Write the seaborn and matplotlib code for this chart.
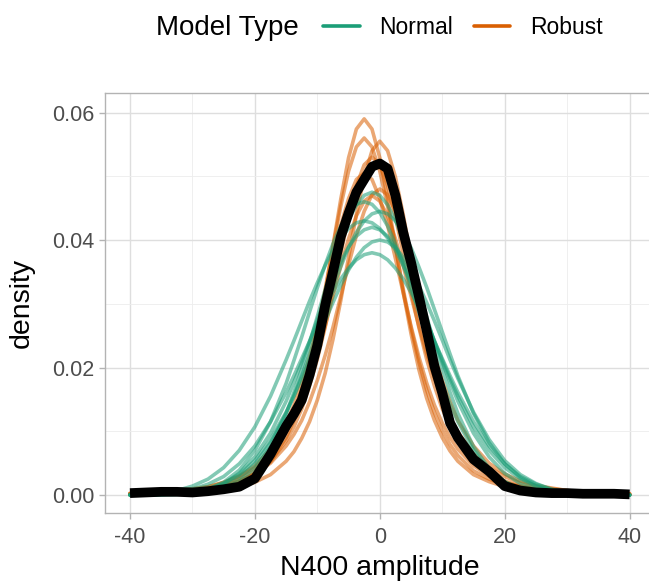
import numpy as np
import pandas as pd
import matplotlib
matplotlib.use("Agg")
import matplotlib.pyplot as plt
from matplotlib.lines import Line2D
from matplotlib.ticker import MultipleLocator
import seaborn as sns

sns.set_theme(style="white")
plt.rcParams["font.family"] = ["Liberation Sans", "DejaVu Sans"]

# ---------------- data ----------------
amplitude = [-40, -37.5, -35, -32.5, -30, -27.5, -25, -22.5, -20, -17.5, -15,
             -13.75, -12.5, -11.25, -10, -8.75, -7.5, -6.25, -5, -3.75, -2.5, -1.25,
             0, 1.25, 2.5, 3.75, 5, 6.25, 7.5, 8.75, 10, 11.25, 12.5,
             15, 17.5, 20, 22.5, 25, 27.5, 30, 32.5, 35, 37.5, 40]

observed = [0.0003, 0.0004, 0.0005, 0.0005, 0.0004, 0.0006, 0.0009, 0.0013, 0.0026, 0.0064, 0.0108,
            0.0127, 0.0149, 0.0188, 0.0235, 0.0297, 0.0350, 0.0405, 0.0442, 0.0475, 0.0495, 0.0515,
            0.0520, 0.0512, 0.0470, 0.0412, 0.0365, 0.0312, 0.0258, 0.0202, 0.0160, 0.0113, 0.0090,
            0.0056, 0.0037, 0.0014, 0.0007, 0.0004, 0.0003, 0.0003, 0.0002, 0.0002, 0.0002, 0.0001]

normal_1 = [0.0000, 0.0000, 0.0001, 0.0002, 0.0004, 0.0009, 0.0018, 0.0032, 0.0054, 0.0087, 0.0130,
            0.0155, 0.0183, 0.0212, 0.0243, 0.0273, 0.0302, 0.0329, 0.0353, 0.0373, 0.0388, 0.0397,
            0.0400, 0.0397, 0.0388, 0.0373, 0.0353, 0.0329, 0.0302, 0.0273, 0.0243, 0.0212, 0.0183,
            0.0130, 0.0087, 0.0054, 0.0032, 0.0018, 0.0009, 0.0004, 0.0002, 0.0001, 0.0000, 0.0000]
normal_2 = [0.0000, 0.0000, 0.0001, 0.0002, 0.0004, 0.0010, 0.0020, 0.0039, 0.0070, 0.0115, 0.0175,
            0.0211, 0.0248, 0.0287, 0.0325, 0.0361, 0.0394, 0.0422, 0.0443, 0.0456, 0.0460, 0.0456,
            0.0443, 0.0422, 0.0394, 0.0361, 0.0325, 0.0287, 0.0248, 0.0211, 0.0175, 0.0143, 0.0115,
            0.0070, 0.0039, 0.0020, 0.0010, 0.0004, 0.0002, 0.0001, 0.0000, 0.0000, 0.0000, 0.0000]
normal_3 = [0.0000, 0.0001, 0.0002, 0.0005, 0.0009, 0.0017, 0.0029, 0.0049, 0.0077, 0.0115, 0.0161,
            0.0187, 0.0214, 0.0241, 0.0269, 0.0294, 0.0318, 0.0339, 0.0356, 0.0369, 0.0377, 0.0380,
            0.0377, 0.0369, 0.0356, 0.0339, 0.0318, 0.0294, 0.0269, 0.0241, 0.0214, 0.0187, 0.0161,
            0.0115, 0.0077, 0.0049, 0.0029, 0.0017, 0.0009, 0.0005, 0.0002, 0.0001, 0.0000, 0.0000]
normal_4 = [0.0001, 0.0002, 0.0004, 0.0007, 0.0014, 0.0025, 0.0043, 0.0070, 0.0107, 0.0155, 0.0212,
            0.0242, 0.0273, 0.0304, 0.0333, 0.0360, 0.0384, 0.0403, 0.0418, 0.0427, 0.0430, 0.0427,
            0.0418, 0.0403, 0.0384, 0.0360, 0.0333, 0.0304, 0.0273, 0.0242, 0.0212, 0.0182, 0.0155,
            0.0107, 0.0070, 0.0043, 0.0025, 0.0014, 0.0007, 0.0004, 0.0002, 0.0001, 0.0000, 0.0000]
normal_5 = [0.0000, 0.0000, 0.0001, 0.0001, 0.0003, 0.0007, 0.0014, 0.0027, 0.0049, 0.0082, 0.0128,
            0.0156, 0.0187, 0.0221, 0.0256, 0.0291, 0.0326, 0.0358, 0.0388, 0.0412, 0.0430, 0.0441,
            0.0445, 0.0441, 0.0430, 0.0412, 0.0388, 0.0358, 0.0326, 0.0291, 0.0256, 0.0221, 0.0187,
            0.0128, 0.0082, 0.0049, 0.0027, 0.0014, 0.0007, 0.0003, 0.0001, 0.0001, 0.0000, 0.0000]
normal_6 = [0.0000, 0.0000, 0.0001, 0.0002, 0.0004, 0.0009, 0.0018, 0.0034, 0.0060, 0.0097, 0.0147,
            0.0177, 0.0208, 0.0241, 0.0275, 0.0308, 0.0338, 0.0366, 0.0389, 0.0406, 0.0416, 0.0420,
            0.0416, 0.0406, 0.0389, 0.0366, 0.0338, 0.0308, 0.0275, 0.0241, 0.0208, 0.0177, 0.0147,
            0.0097, 0.0060, 0.0034, 0.0018, 0.0009, 0.0004, 0.0002, 0.0001, 0.0000, 0.0000, 0.0000]
normal_7 = [0.0000, 0.0000, 0.0000, 0.0001, 0.0002, 0.0004, 0.0010, 0.0021, 0.0042, 0.0076, 0.0128,
            0.0161, 0.0198, 0.0238, 0.0280, 0.0322, 0.0362, 0.0400, 0.0431, 0.0455, 0.0470, 0.0475,
            0.0470, 0.0455, 0.0431, 0.0400, 0.0362, 0.0322, 0.0280, 0.0238, 0.0198, 0.0161, 0.0128,
            0.0076, 0.0042, 0.0021, 0.0010, 0.0004, 0.0002, 0.0001, 0.0000, 0.0000, 0.0000, 0.0000]

robust_1 = [0.0002, 0.0002, 0.0003, 0.0005, 0.0007, 0.0010, 0.0014, 0.0022, 0.0034, 0.0052, 0.0085,
            0.0107, 0.0135, 0.0171, 0.0213, 0.0263, 0.0320, 0.0379, 0.0436, 0.0485, 0.0518, 0.0530,
            0.0518, 0.0485, 0.0436, 0.0379, 0.0320, 0.0263, 0.0213, 0.0171, 0.0135, 0.0107, 0.0085,
            0.0052, 0.0034, 0.0022, 0.0014, 0.0010, 0.0007, 0.0005, 0.0003, 0.0002, 0.0002, 0.0001]
robust_2 = [0.0001, 0.0002, 0.0003, 0.0004, 0.0006, 0.0008, 0.0013, 0.0021, 0.0032, 0.0053, 0.0090,
            0.0117, 0.0152, 0.0197, 0.0253, 0.0318, 0.0391, 0.0464, 0.0529, 0.0574, 0.0590, 0.0574,
            0.0529, 0.0464, 0.0391, 0.0318, 0.0253, 0.0197, 0.0152, 0.0117, 0.0090, 0.0069, 0.0053,
            0.0032, 0.0021, 0.0013, 0.0008, 0.0006, 0.0004, 0.0003, 0.0002, 0.0001, 0.0001, 0.0001]
robust_3 = [0.0002, 0.0003, 0.0004, 0.0005, 0.0007, 0.0011, 0.0015, 0.0022, 0.0033, 0.0050, 0.0077,
            0.0095, 0.0117, 0.0146, 0.0180, 0.0219, 0.0263, 0.0312, 0.0361, 0.0407, 0.0445, 0.0471,
            0.0480, 0.0471, 0.0445, 0.0407, 0.0361, 0.0312, 0.0263, 0.0219, 0.0180, 0.0146, 0.0117,
            0.0077, 0.0050, 0.0033, 0.0022, 0.0015, 0.0011, 0.0007, 0.0005, 0.0004, 0.0003, 0.0002]
robust_4 = [0.0002, 0.0003, 0.0003, 0.0005, 0.0007, 0.0010, 0.0016, 0.0025, 0.0038, 0.0062, 0.0101,
            0.0129, 0.0165, 0.0209, 0.0262, 0.0323, 0.0389, 0.0453, 0.0508, 0.0546, 0.0560, 0.0546,
            0.0508, 0.0453, 0.0389, 0.0323, 0.0262, 0.0209, 0.0165, 0.0129, 0.0101, 0.0079, 0.0062,
            0.0038, 0.0025, 0.0016, 0.0010, 0.0007, 0.0005, 0.0003, 0.0003, 0.0002, 0.0001, 0.0001]
robust_5 = [0.0003, 0.0004, 0.0005, 0.0007, 0.0010, 0.0013, 0.0019, 0.0029, 0.0043, 0.0065, 0.0099,
            0.0122, 0.0150, 0.0184, 0.0222, 0.0265, 0.0312, 0.0359, 0.0402, 0.0438, 0.0461, 0.0470,
            0.0461, 0.0438, 0.0402, 0.0359, 0.0312, 0.0265, 0.0222, 0.0184, 0.0150, 0.0122, 0.0099,
            0.0065, 0.0043, 0.0029, 0.0019, 0.0013, 0.0010, 0.0007, 0.0005, 0.0004, 0.0003, 0.0002]
robust_6 = [0.0001, 0.0001, 0.0002, 0.0003, 0.0004, 0.0006, 0.0008, 0.0013, 0.0020, 0.0032, 0.0053,
            0.0068, 0.0089, 0.0115, 0.0149, 0.0191, 0.0244, 0.0305, 0.0373, 0.0440, 0.0499, 0.0540,
            0.0555, 0.0540, 0.0499, 0.0440, 0.0373, 0.0305, 0.0244, 0.0191, 0.0149, 0.0115, 0.0089,
            0.0053, 0.0032, 0.0020, 0.0013, 0.0008, 0.0006, 0.0004, 0.0003, 0.0002, 0.0001, 0.0001]
robust_7 = [0.0002, 0.0003, 0.0005, 0.0006, 0.0009, 0.0013, 0.0020, 0.0030, 0.0046, 0.0072, 0.0113,
            0.0141, 0.0176, 0.0217, 0.0265, 0.0317, 0.0371, 0.0423, 0.0465, 0.0495, 0.0505, 0.0495,
            0.0465, 0.0423, 0.0371, 0.0317, 0.0265, 0.0217, 0.0176, 0.0141, 0.0113, 0.0090, 0.0072,
            0.0046, 0.0030, 0.0020, 0.0013, 0.0009, 0.0006, 0.0005, 0.0003, 0.0002, 0.0002, 0.0001]

model_types = ["Normal", "Robust"]
x_ticks = [-40, -20, 0, 20, 40]
y_ticks = [0.00, 0.02, 0.04, 0.06]
y_tick_labels = ["0.00", "0.02", "0.04", "0.06"]

palette = {"Normal": "#1B9E77", "Robust": "#D95F02"}

# ---------------- long table ----------------
draw_sets = {"Normal": [normal_1, normal_2, normal_3, normal_4, normal_5, normal_6, normal_7],
             "Robust": [robust_1, robust_2, robust_3, robust_4, robust_5, robust_6, robust_7]}
rows = []
for model in model_types:
    for i, dens in enumerate(draw_sets[model]):
        for xv, yv in zip(amplitude, dens):
            rows.append({"amplitude": xv, "density": yv, "model": model,
                         "draw": f"{model}_{i}"})
df = pd.DataFrame(rows)
obs_df = pd.DataFrame({"amplitude": amplitude, "density": observed})

# ---------------- figure ----------------
W, H = 649, 583
fig = plt.figure(figsize=(W / 100, H / 100), dpi=100)
left, right, top, bottom = 105, 654.6, 93, 513
ax = fig.add_axes([left / W, (H - bottom) / H, (right - left) / W, (bottom - top) / H])

# Robust drawn first, Normal on top
for model in ["Robust", "Normal"]:
    sns.lineplot(data=df[df["model"] == model], x="amplitude", y="density",
                 units="draw", estimator=None, color=palette[model],
                 alpha=0.55, lw=2.6, legend=False, ax=ax,
                 solid_joinstyle="round")

sns.lineplot(data=obs_df, x="amplitude", y="density", color="black", lw=7,
             legend=False, ax=ax, solid_joinstyle="round", solid_capstyle="butt")

ax.set_xlim(-44, 44)
ax.set_ylim(-0.00282, 0.06306)
ax.set_xticks(x_ticks)
ax.set_xticklabels([str(t) for t in x_ticks])
ax.set_yticks(y_ticks)
ax.set_yticklabels(y_tick_labels)
ax.xaxis.set_minor_locator(MultipleLocator(10))
ax.yaxis.set_minor_locator(MultipleLocator(0.01))

ax.grid(which="major", color="#DEDEDE", lw=1.0)
ax.grid(which="minor", color="#EDEDED", lw=0.6)
ax.set_axisbelow(True)

for side in ["left", "top", "bottom"]:
    ax.spines[side].set_color("#B3B3B3")
    ax.spines[side].set_linewidth(1.0)
ax.spines["right"].set_visible(False)

ax.tick_params(axis="both", which="major", length=4.3, width=1.0, color="#B3B3B3",
               labelcolor="#4D4D4D", labelsize=15.5, bottom=True, left=True)
ax.tick_params(axis="x", which="major", pad=6)
ax.tick_params(axis="y", which="major", pad=3)
ax.tick_params(axis="both", which="minor", length=0)

ax.set_xlabel("N400 amplitude", fontsize=20.5, color="black", labelpad=5)
ax.set_ylabel("density", fontsize=20.5, color="black", labelpad=13)

# legend on top
fig.text(156 / W, 1 - 28 / H, "Model Type", fontsize=20, va="center", ha="left",
         color="black")
handles = [Line2D([], [], color=palette[m], lw=2.6) for m in model_types]
leg = fig.legend(handles, model_types, ncol=2, loc="center left",
                 bbox_to_anchor=(323 / W, 1 - 28 / H), frameon=False, fontsize=16.5,
                 handlelength=1.6, handletextpad=0.85, columnspacing=0.9,
                 borderpad=0, borderaxespad=0)
for t in leg.get_texts():
    t.set_color("black")

fig.savefig("out.png", dpi=100)
